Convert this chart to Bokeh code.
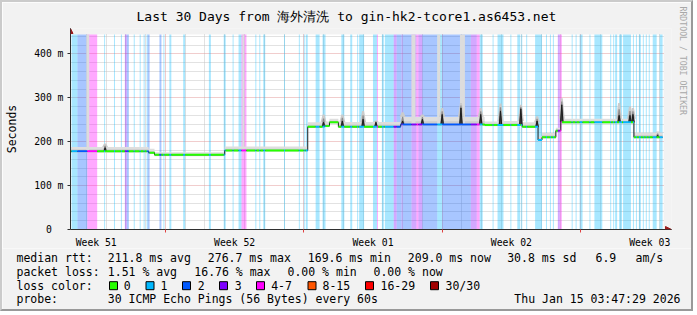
import math
from bokeh.plotting import figure
from bokeh.models import Range1d, FixedTicker, Grid, Arrow, NormalHead, Title
from bokeh.layouts import column
from bokeh.embed import file_html
from bokeh.resources import INLINE
from bokeh.core.properties import value

MONO = "DejaVu Sans Mono"

# ---------------- data ----------------
title_text = "Last 30 Days from 海外清洗 to gin-hk2-tcore1.as6453.net"

# time axis in days since the start of the 30-day window
week_label_days = [1.3, 8.3, 15.3, 22.3, 29.3]
week_labels = ["Week 51", "Week 52", "Week 01", "Week 02", "Week 03"]
week_start_days = [4.8, 11.8, 18.8, 25.8]

y_ticks = [0, 100, 200, 300, 400]
y_tick_labels = ["0\u00a0\u00a0", "100 m", "200 m", "300 m", "400 m"]

# median rtt (ms) as steps
seg_start = [0.00, 3.95, 4.25, 7.80, 12.00, 12.85, 13.10, 13.55, 16.70, 20.95, 21.60, 22.85, 23.65, 23.85, 24.55, 24.80, 28.50]
seg_end = [3.95, 4.25, 7.80, 12.00, 12.85, 13.10, 13.55, 16.70, 20.95, 21.60, 22.85, 23.65, 23.85, 24.55, 24.80, 28.50, 29.95]
seg_median = [178, 175, 170, 180, 234, 236, 244, 234, 239, 238, 238, 234, 204, 210, 225, 244, 210]
seg_smoke_top = [188, 184, 176, 189, 244, 246, 252, 245, 256, 246, 247, 244, 212, 220, 232, 252, 221]

# short latency spikes
spike_day = [1.75, 12.80, 13.75, 14.80, 15.45, 16.80, 17.80, 18.80, 19.75, 20.75, 21.75, 22.78, 23.60, 24.85, 27.75, 28.30, 28.45, 29.70]
spike_median = [186, 244, 247, 251, 244, 247, 251, 262, 277, 262, 270, 275, 247, 284, 260, 260, 262, 214]
spike_top = [196, 262, 262, 270, 248, 267, 262, 277, 288, 277, 287, 284, 258, 299, 288, 280, 277, 223]

# intervals where some pings exceeded the graph top
tall_start = [0.80, 8.70, 17.25, 18.55, 19.70]
tall_end = [0.95, 8.80, 17.45, 18.70, 19.95]

# packet loss intervals (category index into loss_palette)
loss_start = [0.05, 0.35, 0.85, 1.70, 2.20, 2.55, 2.75, 2.85, 3.20, 3.50, 3.70, 3.85, 3.90, 4.50, 4.70, 5.00, 5.70, 7.00, 7.75, 8.20,
              8.50, 8.65, 9.35, 9.55, 9.75, 10.80, 11.55, 11.80, 11.90, 12.40, 12.75, 13.70, 14.15, 14.50, 14.60, 15.30, 15.50, 15.75,
              15.90, 16.35, 16.50, 16.75, 16.80, 17.25, 17.50, 17.60, 17.80, 18.55, 18.80, 20.25, 20.55, 20.70, 21.35, 21.60, 22.25,
              22.60, 22.80, 23.05, 23.50, 24.05, 24.25, 24.40, 24.65, 24.75, 25.35, 25.55, 25.75, 26.25, 26.50, 27.30, 27.45, 27.55,
              27.75, 27.95, 28.45, 28.60, 28.75, 28.95, 29.10, 29.25, 29.45, 29.80]
loss_end = [0.35, 0.85, 1.35, 1.75, 2.25, 2.60, 2.85, 2.95, 3.25, 3.55, 3.75, 3.90, 4.00, 4.60, 4.75, 5.10, 5.80, 7.10, 7.85, 8.25,
            8.65, 8.90, 9.40, 9.60, 9.85, 10.85, 11.60, 11.85, 12.00, 12.60, 12.90, 13.85, 14.25, 14.55, 14.85, 15.50, 15.55, 15.85,
            16.35, 16.50, 16.75, 16.80, 17.25, 17.50, 17.60, 17.80, 18.55, 18.80, 20.25, 20.55, 20.70, 20.85, 21.40, 21.90, 22.30,
            22.75, 22.85, 23.10, 23.85, 24.10, 24.30, 24.45, 24.75, 24.85, 25.40, 25.60, 25.90, 26.30, 26.90, 27.35, 27.50, 27.65,
            27.90, 28.35, 28.50, 28.65, 28.85, 29.00, 29.15, 29.30, 29.65, 29.95]
loss_cat = [1, 2, 4, 1, 1, 1, 3, 2, 1, 1, 1, 1, 2, 2, 1, 1, 1, 1, 1, 1,
            1, 4, 1, 1, 1, 1, 1, 1, 1, 1, 1, 1, 1, 1, 1, 1, 4, 1,
            1, 3, 2, 3, 2, 3, 4, 3, 2, 1, 2, 3, 4, 1, 1, 1, 1,
            1, 1, 1, 1, 1, 1, 1, 3, 4, 1, 1, 1, 1, 1, 1, 1, 1,
            1, 1, 1, 1, 1, 1, 1, 1, 1, 1]

loss_palette = ["#26ff00", "#00b8ff", "#0059ff", "#7e00ff", "#ff00ff", "#ff5500", "#ff0000", "#a10000"]
loss_legend = ["0", "1", "2", "3", "4-7", "8-15", "16-29", "30/30"]

stat_rtt = ["211.8 ms avg", "276.7 ms max", "169.6 ms min", "209.0 ms now", "30.8 ms sd", "6.9", "am/s"]
stat_loss = ["1.51 % avg", "16.76 % max", "0.00 % min", "0.00 % now"]
probe_text = "30 ICMP Echo Pings (56 Bytes) every 60s"
stamp_text = "Thu Jan 15 03:47:29 2026"

# ---------------- styles ----------------
BACK = "#f2f2f2"
AXISC = "#303030"
ARROWC = "#9a1c1c"
GRIDC = "#c4c4c4"
MGRIDC = "#e29a9a"
SHADE_A = "2px solid #cbcbcb"
SHADE_B = "2px solid #999999"
X_DATA_END = 30.0
YTOP = 444.4
X_END = 30.4     # frame reaches the x-axis arrow tip
Y_END = 457.8    # frame reaches the y-axis arrow tip

p = figure(width=693, height=248, x_range=Range1d(0, X_END), y_range=Range1d(0, Y_END),
           output_backend="svg", toolbar_location=None, tools="",
           min_border_left=64, min_border_right=21, min_border_top=25, min_border_bottom=17)
p.styles = {"border-top": SHADE_A, "border-left": SHADE_A, "border-right": SHADE_B}
try:
    p.frame_align = False
except Exception:
    pass
p.background_fill_color = BACK
p.border_fill_color = BACK
p.outline_line_color = None
p.xgrid.visible = False
p.ygrid.visible = False

# white canvas of the graph
p.quad(left=[0], right=[X_DATA_END], bottom=[0], top=[YTOP], fill_color="white", line_color=None, level="image")

# title
p.title.text = title_text
p.title.text_font = MONO
p.title.text_font_size = "13px"
p.title.text_font_style = "normal"
p.title.text_color = "#000000"
p.title.align = "left"
p.title.offset = 66
p.title.standoff = 9

# x axis
xa = p.xaxis[0]
xa.ticker = FixedTicker(ticks=week_label_days, minor_ticks=week_start_days)
xa.major_label_overrides = {d: t for d, t in zip(week_label_days, week_labels)}
xa.major_tick_line_color = None
xa.major_tick_out = 0
xa.major_tick_in = 0
xa.minor_tick_line_color = "#e04040"
xa.minor_tick_out = 3
xa.minor_tick_in = 0
xa.axis_line_color = AXISC
xa.major_label_text_font = MONO
xa.major_label_text_font_size = "9.75px"
xa.major_label_text_color = "#000000"
xa.major_label_standoff = 4

# y axis
ya = p.yaxis[0]
ya.ticker = FixedTicker(ticks=y_ticks, minor_ticks=[])
ya.major_label_overrides = {v: t for v, t in zip(y_ticks, y_tick_labels)}
ya.major_tick_out = 3
ya.major_tick_in = 0
ya.major_tick_line_color = AXISC
ya.minor_tick_line_color = None
ya.axis_line_color = AXISC
ya.major_label_text_font = MONO
ya.major_label_text_font_size = "9.75px"
ya.major_label_text_color = "#000000"
ya.major_label_standoff = 4
ya.axis_label = "Seconds"
ya.axis_label_text_font = MONO
ya.axis_label_text_font_size = "11.5px"
ya.axis_label_text_font_style = "normal"
ya.axis_label_text_color = "#000000"
ya.axis_label_standoff = 12


def make_grid(dim, ticks, color):
    kw = dict(dimension=dim, ticker=FixedTicker(ticks=ticks), grid_line_color=color, grid_line_dash="1 1")
    try:
        return Grid(cross_bounds=(0, YTOP) if dim == 0 else (0, X_DATA_END), **kw)
    except Exception:
        return Grid(**kw)


day_minor = [0.8 + k for k in range(30) if (k - 4) % 7 != 0]
y_minor = [v for v in range(20, 441, 20) if v % 100 != 0]
p.add_layout(make_grid(0, day_minor, GRIDC))
p.add_layout(make_grid(1, y_minor, GRIDC))
p.add_layout(make_grid(0, week_start_days, MGRIDC))
p.add_layout(make_grid(1, y_ticks[1:], MGRIDC))

# loss background bands
p.quad(left=loss_start, right=loss_end, bottom=0, top=YTOP,
       fill_color=[loss_palette[c] for c in loss_cat], fill_alpha=0.34, line_color=None)


def seg_of(d):
    for i, (a, b) in enumerate(zip(seg_start, seg_end)):
        if a <= d < b:
            return i
    return len(seg_start) - 1


# smoke
p.quad(left=seg_start, right=seg_end, bottom=[m - 3 for m in seg_median], top=seg_smoke_top,
       fill_color="#dedede", line_color=None)
p.quad(left=seg_start, right=seg_end, bottom=seg_median,
       top=[m + (t - m) * 0.45 for m, t in zip(seg_median, seg_smoke_top)],
       fill_color="#cdcdcd", line_color=None)
p.quad(left=tall_start, right=tall_end, bottom=[seg_median[seg_of(s)] for s in tall_start], top=YTOP,
       fill_color="#dcdcdc", line_color=None)

outer_x, outer_y, mid_x, mid_y, in_x, in_y = [], [], [], [], [], []
for s, pk, tp in zip(spike_day, spike_median, spike_top):
    i = seg_of(s)
    v = seg_median[i]
    bt = seg_smoke_top[i]
    outer_x.append([s - 0.15, s - 0.05, s + 0.05, s + 0.15])
    outer_y.append([bt, tp, tp, bt])
    mid_x.append([s - 0.10, s - 0.03, s + 0.03, s + 0.10])
    mid_y.append([v, (tp + pk) / 2, (tp + pk) / 2, v])
    in_x.append([s - 0.07, s, s + 0.07])
    in_y.append([v, pk + 2, v])
p.patches(outer_x, outer_y, fill_color="#cbcbcb", line_color=None)
p.patches(mid_x, mid_y, fill_color="#8c8c8c", line_color=None)
p.patches(in_x, in_y, fill_color="#454545", line_color=None)

# black median path (with spikes)
mx, my = [], []
for a, b, v in zip(seg_start, seg_end, seg_median):
    mx.append(a)
    my.append(v)
    for s, pk in sorted(zip(spike_day, spike_median)):
        if a <= s < b:
            mx += [s - 0.06, s, s + 0.06]
            my += [v, pk, v]
    mx.append(b)
    my.append(v)
p.line(mx, my, line_color="#1e1e1e", line_width=1)

# loss-coloured median
cx0, cx1, cy, cc = [], [], [], []
for a, b, v in zip(seg_start, seg_end, seg_median):
    pos = a
    for ls, le, lc in zip(loss_start, loss_end, loss_cat):
        if le <= a or ls >= b:
            continue
        s, e = max(ls, a), min(le, b)
        if s > pos:
            cx0.append(pos); cx1.append(s); cy.append(v); cc.append(loss_palette[0])
        cx0.append(s); cx1.append(e); cy.append(v); cc.append(loss_palette[lc])
        pos = e
    if pos < b:
        cx0.append(pos); cx1.append(b); cy.append(v); cc.append(loss_palette[0])
p.segment(x0=cx0, y0=cy, x1=cx1, y1=cy, line_color=cc, line_width=2)

# axis arrows
p.add_layout(Arrow(end=NormalHead(size=6, fill_color=ARROWC, line_color=ARROWC),
                   x_start=X_DATA_END, y_start=0, x_end=X_END, y_end=0, line_color=AXISC, line_width=1))
p.add_layout(Arrow(end=NormalHead(size=5, fill_color=ARROWC, line_color=ARROWC),
                   x_start=0, y_start=YTOP, x_end=0, y_end=Y_END, line_color=AXISC, line_width=1))

# vertical credit text on the right
p.add_layout(Title(text="RRDTOOL / TOBI OETIKER", align="left", offset=-22, standoff=12,
                   text_font=MONO, text_font_size="8.2px", text_font_style="normal",
                   text_color="#a8a8a8"), "right")

# ---------------- legend area (coordinates = canvas pixels) ----------------
q = figure(width=693, height=63, x_range=Range1d(2, 695), y_range=Range1d(313, 250),
           output_backend="svg", toolbar_location=None, tools="",
           x_axis_type=None, y_axis_type=None,
           min_border=0, min_border_left=0, min_border_right=0, min_border_top=0, min_border_bottom=0)
q.styles = {"border-left": SHADE_A, "border-right": SHADE_B, "border-bottom": SHADE_B}
try:
    q.frame_align = False
except Exception:
    pass
q.background_fill_color = BACK
q.border_fill_color = BACK
q.outline_line_color = None
q.xgrid.visible = False
q.ygrid.visible = False

tx = [16, 107.3, 207.3, 307.3, 407.3, 506.7, 595, 635,
      16, 107.3, 193.8, 287, 373,
      16,
      16, 107.3]
ty = [259] * 8 + [273.3] * 5 + [287.3] + [300.7] * 2
tt = ["median rtt:"] + stat_rtt + ["packet loss:"] + stat_loss + ["loss color:"] + ["probe:", probe_text]
q.text(x=tx, y=ty, text=tt, text_font=value(MONO), text_font_size="11.5px",
       text_baseline="middle", text_align="left", text_color="#000000")
q.text(x=[680], y=[300.7], text=[stamp_text], text_font=value(MONO), text_font_size="11.5px",
       text_baseline="middle", text_align="right", text_color="#000000")

sw_x = [113, 149.5, 186, 223, 260, 311.5, 369, 434]
lab_x = [123.3, 160, 197.3, 234.3, 270.7, 322, 380, 445]
q.rect(x=sw_x, y=287.2, width=8, height=8, fill_color=loss_palette, line_color="#000000", line_width=1)
q.text(x=lab_x, y=[287.3] * 8, text=loss_legend, text_font=value(MONO), text_font_size="11.5px",
       text_baseline="middle", text_align="left", text_color="#000000")

layout = column(p, q, spacing=0)
open("out.html", "w").write(file_html(layout, INLINE))
